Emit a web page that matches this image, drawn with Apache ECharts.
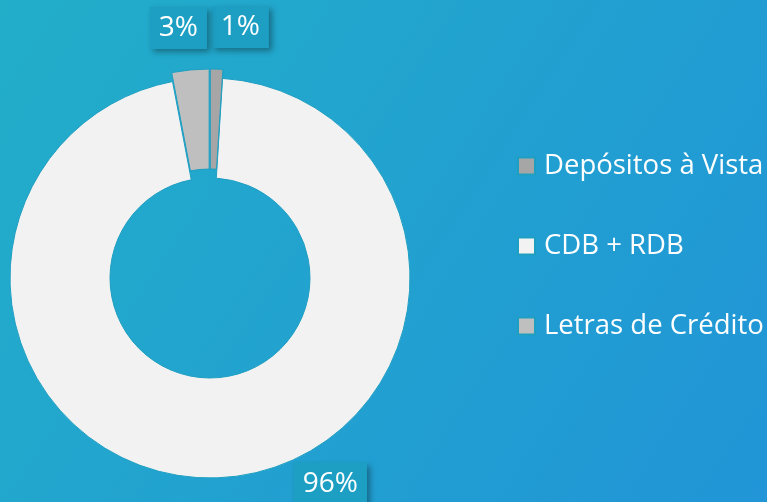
<!DOCTYPE html>
<html>
<head>
<meta charset="utf-8">
<script src="https://cdn.jsdelivr.net/npm/echarts@6/dist/echarts.min.js"></script>
<style>
  html, body { margin: 0; padding: 0; }
  #chart { width: 767px; height: 502px; }
</style>
</head>
<body>
<div id="chart"></div>
<script>
// dados do gráfico
var categorias = ['Depósitos à Vista', 'CDB + RDB', 'Letras de Crédito']
var valores = [1, 96, 3]
var cores = ['#a6a6a6', '#f2f2f2', '#bfbfbf']
var destacados = [true, false, true]
// deslocamento dos rótulos (dx, dy)
var ajusteRotulo = [[-10, -38], [66, 2], [22, -38]]

var chart = echarts.init(document.getElementById('chart'))

var dados = categorias.map(function (nome, i) {
  return {
    name: nome,
    value: valores[i],
    selected: destacados[i],
    itemStyle: { color: cores[i] }
  }
})

chart.setOption({
  backgroundColor: new echarts.graphic.LinearGradient(0, 0, 1, 1, [
    { offset: 0, color: '#22aec9' },
    { offset: 1, color: '#2195d7' }
  ]),
  legend: {
    orient: 'vertical',
    left: 512,
    top: 147,
    icon: 'rect',
    itemWidth: 17,
    itemHeight: 17,
    itemGap: 52,
    selectedMode: false,
    data: categorias,
    textStyle: {
      color: '#ffffff',
      fontSize: 27.5,
      fontFamily: 'Open Sans',
      padding: [0, 0, 0, 4]
    }
  },
  series: [{
    type: 'pie',
    center: [210, 278],
    radius: [100, 200],
    startAngle: 90,
    clockwise: true,
    selectedMode: 'multiple',
    selectedOffset: 9,
    avoidLabelOverlap: false,
    animation: false,
    silent: true,
    itemStyle: {
      borderColor: '#1e9fc2',
      borderWidth: 1
    },
    label: {
      show: true,
      position: 'outside',
      formatter: '{d}%',
      color: '#ffffff',
      fontSize: 28,
      fontFamily: 'Open Sans',
      backgroundColor: '#1d9fc4',
      padding: [7, 9, 7, 9],
      shadowColor: 'rgba(0,0,0,0.35)',
      shadowBlur: 6,
      shadowOffsetX: 3,
      shadowOffsetY: 3
    },
    labelLine: { show: false, length: 4, length2: 0 },
    labelLayout: function (p) {
      var a = ajusteRotulo[p.dataIndex]
      return { dx: a[0], dy: a[1] }
    },
    data: dados
  }]
})
</script>
</body>
</html>
